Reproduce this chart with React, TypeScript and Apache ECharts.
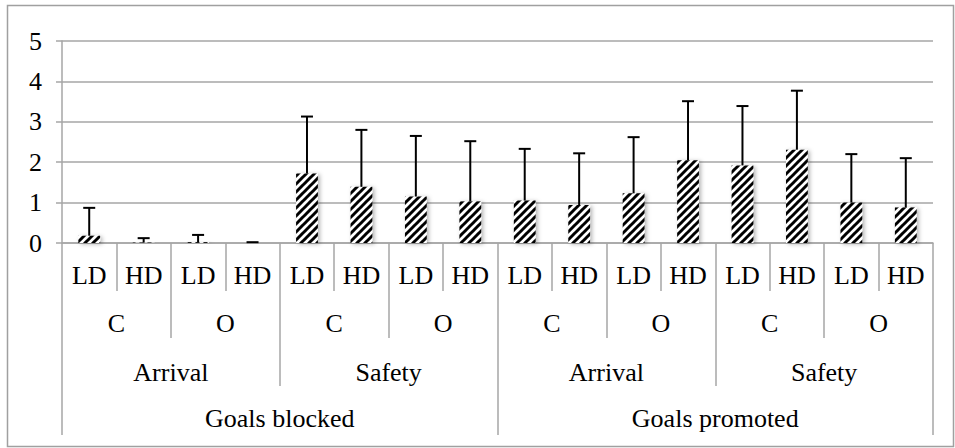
import React, { useEffect, useRef } from "react";
import * as echarts from "echarts";

// Innermost category level (one bar each)
const densityLabels = ["LD", "HD", "LD", "HD", "LD", "HD", "LD", "HD", "LD", "HD", "LD", "HD", "LD", "HD", "LD", "HD"];
// Second level: condition
const conditionLabels = ["C", "O", "C", "O", "C", "O", "C", "O"];
// Third level: goal type
const goalLabels = ["Arrival", "Safety", "Arrival", "Safety"];
// Outer level
const groupLabels = ["Goals blocked", "Goals promoted"];

// Mean scores per bar
const means = [0.18, 0.01, 0.02, 0, 1.72, 1.39, 1.15, 1.03, 1.05, 0.94, 1.23, 2.05, 1.92, 2.31, 1.0, 0.88];
// Upper error (standard deviation) per bar
const sds = [0.69, 0.11, 0.18, 0.02, 1.41, 1.41, 1.5, 1.49, 1.28, 1.28, 1.39, 1.46, 1.47, 1.46, 1.2, 1.22];

// Y axis range
const yMin = 0;
const yMax = 5;
const yStep = 1;

const FONT = "'Liberation Serif', 'Times New Roman', serif";
const GRID_GRAY = "#a6a6a6";

// Tile of black "/" diagonal stripes on white, seamless when repeated
function makeHatchTile(size: number, lineWidth: number): HTMLCanvasElement {
  const c = document.createElement("canvas");
  c.width = size;
  c.height = size;
  const ctx = c.getContext("2d")!;
  ctx.fillStyle = "#fff";
  ctx.fillRect(0, 0, size, size);
  ctx.strokeStyle = "#000";
  ctx.lineWidth = lineWidth;
  ctx.lineCap = "square";
  for (let k = -1; k <= 1; k++) {
    const o = k * size;
    ctx.beginPath();
    ctx.moveTo(o - 1, size + 1);
    ctx.lineTo(o + size + 1, -1);
    ctx.stroke();
  }
  return c;
}

export default function App() {
  const ref = useRef<HTMLDivElement>(null);

  useEffect(() => {
    if (!ref.current) return;
    const chart = echarts.init(ref.current, null, { renderer: "svg" });

    const hatch = makeHatchTile(8, 3);

    const labelStyle = { fontFamily: FONT, fontSize: 26, color: "#000", lineHeight: 26 };
    const levelAxis = (data: string[], offset: number, margin: number, tickLen: number, showLine: boolean) => ({
      type: "category",
      data,
      position: "bottom",
      offset,
      gridIndex: 0,
      boundaryGap: true,
      axisLine: { show: showLine, lineStyle: { color: GRID_GRAY, width: 1.5 } },
      axisTick: { show: true, interval: 0, length: tickLen, lineStyle: { color: GRID_GRAY, width: 1.5 } },
      axisLabel: { interval: 0, margin, ...labelStyle },
      splitLine: { show: false },
    });

    const errData = means.map((m, i) => [i, m, m + sds[i]]);

    chart.setOption({
      animation: false,
      backgroundColor: "#fff",
      grid: { left: 62, right: 22, top: 41, bottom: 205, containLabel: false },
      graphic: [
        {
          type: "rect",
          shape: { x: 7.5, y: 5.5, width: 946, height: 441 },
          style: { fill: "none", stroke: "#a0a0a0", lineWidth: 1.5 },
          silent: true,
        },
      ],
      xAxis: [
        levelAxis(densityLabels, 0, 19, 48, true),
        levelAxis(conditionLabels, 48, 19, 47, false),
        levelAxis(goalLabels, 95, 21, 48, false),
        levelAxis(groupLabels, 143, 19, 49, false),
      ],
      yAxis: {
        type: "value",
        min: yMin,
        max: yMax,
        interval: yStep,
        axisLine: { show: true, lineStyle: { color: GRID_GRAY, width: 1.5 } },
        axisTick: { show: true, length: 6, lineStyle: { color: GRID_GRAY, width: 1.5 } },
        axisLabel: { margin: 20, ...labelStyle },
        splitLine: { show: true, lineStyle: { color: GRID_GRAY, width: 1.5 } },
      },
      series: [
        {
          type: "bar",
          xAxisIndex: 0,
          data: means,
          barWidth: "40%",
          itemStyle: {
            color: { image: hatch, repeat: "repeat" },
            shadowColor: "rgba(0,0,0,0.3)",
            shadowBlur: 4,
            shadowOffsetX: 2,
            shadowOffsetY: 1,
          },
          silent: true,
        },
        {
          type: "custom",
          xAxisIndex: 0,
          data: errData,
          z: 5,
          silent: true,
          renderItem: (params: any, api: any) => {
            const x = api.value(0);
            const lo = api.coord([x, api.value(1)]);
            const hi = api.coord([x, api.value(2)]);
            const cap = 6;
            const style = { stroke: "#000", lineWidth: 2 };
            return {
              type: "group",
              children: [
                { type: "line", shape: { x1: lo[0], y1: lo[1], x2: hi[0], y2: hi[1] }, style },
                { type: "line", shape: { x1: hi[0] - cap, y1: hi[1], x2: hi[0] + cap, y2: hi[1] }, style },
              ],
            };
          },
        },
      ],
    });

    return () => chart.dispose();
  }, []);

  return (
    <div
      ref={ref}
      style={{ position: "fixed", left: 0, top: 0, width: 955, height: 448, background: "#fff" }}
    />
  );
}
